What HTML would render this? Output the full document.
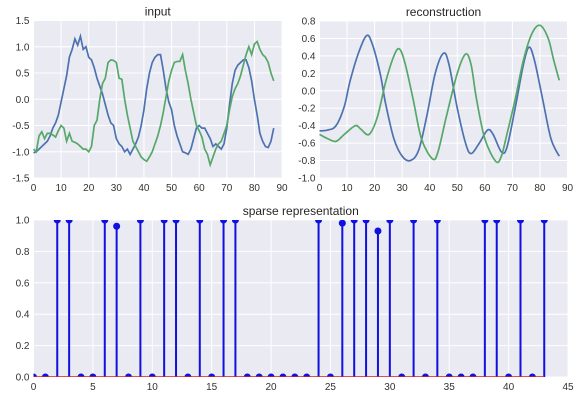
<!DOCTYPE html>
<html><head><meta charset="utf-8"><style>
html,body{margin:0;padding:0;background:#fff;}
svg{display:block;font-family:"Liberation Sans",sans-serif;}
</style></head><body>
<svg id="c" width="581" height="402"></svg>
<script>
// input plot data
const inX = [0,1,2,3,4,5,6,7,8,9,10,11,12,13,14,15,16,17,18,19,20,21,22,23,24,25,26,27,28,29,30,31,32,33,34,35,36,37,38,39,40,41,42,43,44,45,46,47,48,49,50,51,52,53,54,55,56,57,58,59,60,61,62,63,64,65,66,67,68,69,70,71,72,73,74,75,76,77,78,79,80,81,82,83,84,85,86,87];
const inBlue = [-1.02,-1.0,-0.95,-0.9,-0.85,-0.8,-0.7,-0.55,-0.45,-0.3,-0.05,0.2,0.45,0.8,0.95,1.15,1.03,1.2,0.95,1.0,0.8,0.75,0.6,0.4,0.25,0.1,-0.1,-0.3,-0.45,-0.5,-0.75,-0.85,-0.9,-1.0,-0.95,-1.05,-0.95,-0.85,-0.72,-0.5,-0.2,0.2,0.5,0.7,0.8,0.85,0.85,0.55,0.2,-0.05,-0.2,-0.5,-0.7,-0.85,-1.0,-1.02,-1.05,-0.95,-0.75,-0.55,-0.5,-0.55,-0.55,-0.65,-0.75,-0.9,-0.85,-0.9,-0.95,-0.85,-0.55,-0.1,0.3,0.55,0.65,0.7,0.75,0.75,0.6,0.35,0.0,-0.3,-0.65,-0.8,-0.9,-0.92,-0.8,-0.55];
const inGreen = [-0.95,-1.0,-0.7,-0.62,-0.75,-0.65,-0.65,-0.68,-0.72,-0.6,-0.5,-0.55,-0.8,-0.65,-0.8,-0.82,-0.85,-0.9,-0.95,-0.95,-1.0,-0.9,-0.5,-0.4,0.0,0.3,0.4,0.7,0.75,0.74,0.7,0.4,0.38,0.0,-0.3,-0.55,-0.8,-0.9,-1.0,-1.1,-1.15,-1.18,-1.1,-1.0,-0.85,-0.7,-0.5,-0.25,0.05,0.35,0.55,0.7,0.72,0.72,0.85,0.55,0.3,0.0,-0.25,-0.5,-0.6,-0.72,-0.95,-1.05,-1.25,-1.1,-0.95,-0.85,-0.8,-0.65,-0.5,-0.2,0.05,0.2,0.3,0.45,0.65,0.85,1.0,0.85,1.05,1.1,0.95,0.85,0.8,0.7,0.5,0.35];
// reconstruction data
const rbX = [0,3,6,9,11,14,17,19,22,24,27,30,33,36,39,42,45,47,50,53,55,58,61,63,66,68,71,74,76,78,81,84,87];
const rbY = [-0.46,-0.45,-0.4,-0.18,0.1,0.42,0.63,0.55,0.2,-0.15,-0.55,-0.75,-0.8,-0.68,-0.28,0.2,0.43,0.3,-0.2,-0.6,-0.72,-0.6,-0.45,-0.5,-0.7,-0.65,-0.2,0.3,0.5,0.35,-0.1,-0.55,-0.75];
const rgX = [0,3,6,9,13,15,18,21,24,27,29,31,34,37,41,43,46,50,53,55,57,60,64,66,68,71,74,77,80,83,85,87];
const rgY = [-0.5,-0.55,-0.58,-0.5,-0.4,-0.44,-0.5,-0.3,0.1,0.4,0.48,0.32,-0.1,-0.55,-0.78,-0.7,-0.3,0.2,0.42,0.3,-0.1,-0.55,-0.81,-0.75,-0.5,-0.1,0.35,0.65,0.75,0.6,0.35,0.12];
// sparse representation
const spIdx = [0,1,2,3,4,5,6,7,8,9,10,11,12,13,14,15,16,17,18,19,20,21,22,23,24,25,26,27,28,29,30,31,32,33,34,35,36,37,38,39,40,41,42,43];
const spVal = [0,0,1,1,0,0,1,0.96,0,1,0,1,1,0,1,0,1,1,0,0,0,0,0,0,1,0,0.98,1,1,0.93,1,0,1,0,1,0,0,0,1,1,0,1,0,1];
const tl1 = [-1.5,-1.0,-0.5,0.0,0.5,1.0,1.5];
const tl2 = [-1.0,-0.8,-0.6,-0.4,-0.2,0.0,0.2,0.4,0.6,0.8];
const tl3 = [0.0,0.2,0.4,0.6,0.8,1.0];
const tx90 = [0,10,20,30,40,50,60,70,80,90];
const tx45 = [0,5,10,15,20,25,30,35,40,45];

const NS="http://www.w3.org/2000/svg";
const svg=document.getElementById('c');
function mk(t,a,p){const e=document.createElementNS(NS,t);for(const k in a)e.setAttribute(k,a[k]);(p||svg).appendChild(e);return e;}

function axes(name,x0,x1,y0,y1,xmin,xmax,ymin,ymax,xt,yt,title,dec){
  const g=mk('g',{});
  
  
  mk('rect',{x:x0,y:y0,width:x1-x0,height:y1-y0,fill:'#EAEAF2'},g);
  const sx=v=>x0+(v-xmin)/(xmax-xmin)*(x1-x0);
  const sy=v=>y1-(v-ymin)/(ymax-ymin)*(y1-y0);
  xt.forEach(v=>{const X=sx(v);mk('line',{x1:X,x2:X,y1:y0,y2:y1,stroke:'#fff','stroke-width':1},g);
    const t=mk('text',{x:X,y:y1+13,'text-anchor':'middle','font-size':10,fill:'#333'},g);t.textContent=v;});
  yt.forEach(v=>{const Y=sy(v);mk('line',{x1:x0,x2:x1,y1:Y,y2:Y,stroke:'#fff','stroke-width':1},g);
    const t=mk('text',{x:x0-4,y:Y+3.5,'text-anchor':'end','font-size':10,fill:'#333'},g);t.textContent=v.toFixed(dec);});
  const tt=mk('text',{x:(x0+x1)/2,y:y0-5,'text-anchor':'middle','font-size':12,fill:'#262626'},g);tt.textContent=title;
  
  
  return {g,sx,sy};
}
function smooth(pts){let d='M'+pts[0][0]+','+pts[0][1];
  for(let i=0;i<pts.length-1;i++){const p0=pts[Math.max(0,i-1)],p1=pts[i],p2=pts[i+1],p3=pts[Math.min(pts.length-1,i+2)];
    d+=' C'+(p1[0]+(p2[0]-p0[0])/6)+','+(p1[1]+(p2[1]-p0[1])/6)+' '+(p2[0]-(p3[0]-p1[0])/6)+','+(p2[1]-(p3[1]-p1[1])/6)+' '+p2[0]+','+p2[1];}
  return d;}

const A=axes('input-chart',33.5,282,20.5,178,0,90,-1.5,1.5,tx90,tl1,'input',1);
let p=mk('polyline',{points:inX.map((x,i)=>A.sx(x)+','+A.sy(inBlue[i])).join(' '),fill:'none',stroke:'#4C72B0','stroke-width':1.7},A.g);

p=mk('polyline',{points:inX.map((x,i)=>A.sx(x)+','+A.sy(inGreen[i])).join(' '),fill:'none',stroke:'#55A868','stroke-width':1.7},A.g);


const B=axes('reconstruction-chart',319.5,567.5,21,178,0,90,-1.0,0.8,tx90,tl2,'reconstruction',1);
p=mk('path',{d:smooth(rbX.map((x,i)=>[B.sx(x),B.sy(rbY[i])])),fill:'none',stroke:'#4C72B0','stroke-width':1.7},B.g);

p=mk('path',{d:smooth(rgX.map((x,i)=>[B.sx(x),B.sy(rgY[i])])),fill:'none',stroke:'#55A868','stroke-width':1.7},B.g);


const C=axes('sparse-chart',33.5,568,220,377,0,45,0,1,tx45,tl3,'sparse representation',1);
mk('clipPath',{id:'cl'},svg).appendChild(Object.assign(document.createElementNS(NS,'rect'),{}));
document.querySelector('#cl rect').setAttribute('x',33.5);document.querySelector('#cl rect').setAttribute('y',220);
document.querySelector('#cl rect').setAttribute('width',534.5);document.querySelector('#cl rect').setAttribute('height',157);
const sg=mk('g',{'clip-path':'url(#cl)'},C.g);
spIdx.forEach((k,i)=>{const X=C.sx(k),Y=C.sy(spVal[i]);
  const l=mk('line',{x1:X,x2:X,y1:C.sy(0),y2:Y,stroke:'#1010e0','stroke-width':2},sg);
  
  const c=mk('circle',{cx:X,cy:Y,r:3.5,fill:'#1010e0'},sg);
  });
const bl=mk('line',{x1:C.sx(0),x2:C.sx(43),y1:C.sy(0),y2:C.sy(0),stroke:'#d62020','stroke-width':1.5},sg);

</script>
</body></html>
